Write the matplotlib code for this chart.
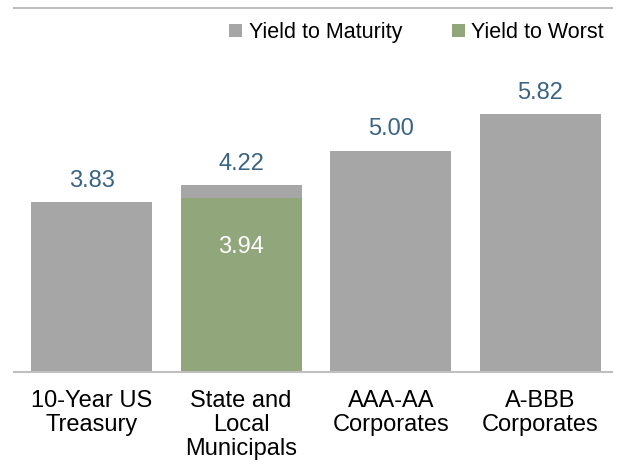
import matplotlib
matplotlib.use("Agg")
from matplotlib import pyplot as plt
import numpy as np

plt.rcParams['font.family'] = ['Liberation Sans', 'DejaVu Sans']

categories = ["10-Year US\nTreasury", "State and\nLocal\nMunicipals",
              "AAA-AA\nCorporates", "A-BBB\nCorporates"]
ytm = [3.83, 4.22, 5.00, 5.82]
ytw = [None, 3.94, None, None]

grey = "#A6A6A6"
green = "#92A67C"
label_col = "#3A6384"

fig = plt.figure(figsize=(6.26, 4.67), dpi=100)
ax = fig.add_axes([0.022, 0.2034, 0.956, 0.7796])

x = np.arange(len(categories))
ax.bar(x, ytm, width=0.81, color=grey, label="Yield to Maturity")
ytw_x = [i for i, v in enumerate(ytw) if v is not None]
ytw_v = [v for v in ytw if v is not None]
ax.bar(ytw_x, ytw_v, width=0.81, color=green, label="Yield to Worst")

for i, v in enumerate(ytm):
    ax.annotate("%.2f" % v, (i, v), xytext=(0, 7.5), textcoords="offset points",
                ha="center", va="bottom", fontsize=17, color=label_col)
for i, v in zip(ytw_x, ytw_v):
    ax.annotate("%.2f" % v, (i, v), xytext=(0, -28), textcoords="offset points",
                ha="center", va="top", fontsize=17, color="white")

ax.set_xlim(-0.52, 3.48)
ax.set_ylim(0, 8.22)
ax.set_xticks(x)
ax.set_xticklabels(categories, fontsize=17, linespacing=1.12)
ax.tick_params(axis="x", length=0, pad=13)
ax.set_yticks([])
for s in ["left", "right"]:
    ax.spines[s].set_visible(False)
for s in ["top", "bottom"]:
    ax.spines[s].set_color("#BFBFBF")
    ax.spines[s].set_linewidth(1.5)

ax.legend(loc="upper right", bbox_to_anchor=(1.0, 0.985), ncol=2, frameon=False,
          fontsize=15.5, handlelength=0.6, handleheight=0.6, handletextpad=0.3,
          columnspacing=2.3, borderaxespad=0)

plt.savefig("out.png", dpi=100)
